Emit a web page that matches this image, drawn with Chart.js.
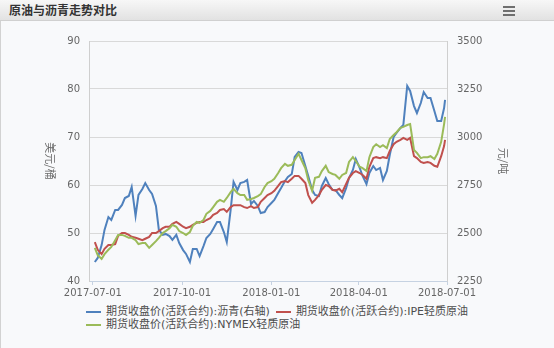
<!DOCTYPE html>
<html>
<head>
<meta charset="utf-8">
<script src="https://cdn.jsdelivr.net/npm/chart.js@4.4.1/dist/chart.umd.min.js"></script>
<style>
  html, body { margin: 0; padding: 0; }
  body {
    width: 554px; height: 348px; position: relative; overflow: hidden;
    background: #f8f9fb;
    font-family: "DejaVu Sans", "Noto Sans CJK SC", sans-serif;
  }
  #edge { position: absolute; left: 0; top: 0; width: 1px; height: 348px; background: #d2d2d2; }
  #head {
    position: absolute; left: 0; top: 0; width: 554px; height: 20px;
    background: linear-gradient(#f7f7f7, #e2e2e2);
    border-bottom: 1px solid #d0d0d0;
  }
  #head .t {
    position: absolute; left: 9px; top: 3px;
    font: bold 12px/14px "Noto Sans CJK SC", sans-serif; color: #333;
  }
  #head .menu { position: absolute; left: 503px; top: 6px; width: 12px; }
  #head .menu i { display: block; height: 2px; background: #6f6f6f; margin-bottom: 2px; }
  #wrap { position: absolute; left: 0; top: 22px; width: 554px; height: 279px; }
  #legend {
    position: absolute; left: 86px; top: 305px; width: 420px;
    display: flex; flex-wrap: wrap;
    font: 11px/13px "DejaVu Sans", "Noto Sans CJK SC", sans-serif; color: #4d4d4d;
  }
  #legend .item { display: inline-flex; align-items: center; margin-right: 6px; white-space: nowrap; }
  #legend .sw { width: 15px; height: 2px; margin-right: 5px; }
</style>
</head>
<body>
<div id="edge"></div>
<div id="head">
  <span class="t">原油与沥青走势对比</span>
  <div class="menu"><i></i><i></i><i></i></div>
</div>
<div id="wrap"><canvas id="chart" width="554" height="279"></canvas></div>
<div id="legend"></div>

<script>
// --------------------------------
// || Data
// --------------------------------

const dates = [
    '2017-07-03', '2017-07-06', '2017-07-10', '2017-07-13', '2017-07-17', '2017-07-20', '2017-07-24', '2017-07-27', '2017-07-31',
    '2017-08-03', '2017-08-07', '2017-08-10', '2017-08-14', '2017-08-17', '2017-08-21', '2017-08-24', '2017-08-28', '2017-08-31',
    '2017-09-04', '2017-09-07', '2017-09-11', '2017-09-14', '2017-09-18', '2017-09-21', '2017-09-25', '2017-09-28',
    '2017-10-02', '2017-10-05', '2017-10-09', '2017-10-12', '2017-10-16', '2017-10-19', '2017-10-23', '2017-10-26', '2017-10-30',
    '2017-11-02', '2017-11-06', '2017-11-09', '2017-11-13', '2017-11-16', '2017-11-20', '2017-11-23', '2017-11-27', '2017-11-30',
    '2017-12-04', '2017-12-07', '2017-12-11', '2017-12-14', '2017-12-18', '2017-12-21', '2017-12-25', '2017-12-28',
    '2018-01-01', '2018-01-04', '2018-01-08', '2018-01-11', '2018-01-15', '2018-01-18', '2018-01-22', '2018-01-25', '2018-01-29',
    '2018-02-01', '2018-02-05', '2018-02-08', '2018-02-12', '2018-02-15', '2018-02-19', '2018-02-22', '2018-02-26',
    '2018-03-01', '2018-03-05', '2018-03-08', '2018-03-12', '2018-03-15', '2018-03-19', '2018-03-22', '2018-03-26', '2018-03-29',
    '2018-04-02', '2018-04-05', '2018-04-09', '2018-04-12', '2018-04-16', '2018-04-19', '2018-04-23', '2018-04-26', '2018-04-30',
    '2018-05-03', '2018-05-07', '2018-05-10', '2018-05-14', '2018-05-17', '2018-05-21', '2018-05-24', '2018-05-28', '2018-05-31',
    '2018-06-04', '2018-06-07', '2018-06-11', '2018-06-14', '2018-06-18', '2018-06-21', '2018-06-25', '2018-06-28', '2018-06-29'
];

// 沥青, 元/吨 (right axis)
const asphalt = [
    2349, 2370, 2437, 2516, 2583, 2568, 2620, 2620, 2646,
    2682, 2693, 2740, 2589, 2698, 2729, 2760, 2724, 2703,
    2641, 2516, 2490, 2495, 2484, 2464, 2490, 2448,
    2411, 2391, 2349, 2417, 2417, 2380, 2432, 2474, 2495,
    2521, 2557, 2557, 2505, 2453, 2620, 2766, 2724, 2760,
    2766, 2776, 2651, 2667, 2641, 2604, 2609, 2635,
    2656, 2672, 2708, 2734, 2771, 2792, 2807, 2896, 2922,
    2917, 2849, 2797, 2724, 2698, 2693, 2745, 2786,
    2755, 2724, 2724, 2698, 2682, 2734, 2786, 2828, 2885,
    2839, 2797, 2755, 2813, 2849, 2828, 2839, 2776, 2823,
    2906, 3000, 3021, 3047, 3063, 3266, 3240, 3161, 3125,
    3177, 3234, 3203, 3203, 3135, 3083, 3083, 3151, 3193
];

// IPE 轻质原油, 美元/桶
const ipe = [
    48.1, 46.5, 45.6, 46.7, 47.5, 47.5, 47.7, 49.4, 50.0,
    50.0, 49.6, 49.2, 49.0, 48.8, 48.5, 48.8, 49.2, 50.0,
    50.0, 50.4, 51.0, 51.3, 51.3, 51.9, 52.3, 51.9,
    51.3, 51.0, 51.3, 51.7, 52.1, 52.3, 52.3, 52.7, 53.1,
    53.8, 54.2, 54.8, 55.0, 54.4, 55.4, 55.8, 55.8, 55.8,
    55.4, 55.2, 55.6, 55.2, 55.4, 56.5, 57.3, 57.9,
    58.3, 58.8, 59.8, 60.6, 60.8, 60.6, 61.3, 61.9, 61.9,
    61.3, 60.4, 57.9, 56.3, 56.9, 57.9, 59.0, 60.0,
    59.8, 59.0, 58.8, 59.2, 58.5, 60.2, 61.5, 62.5, 62.9,
    62.5, 62.1, 61.3, 63.8, 65.6, 65.8, 65.6, 65.8, 65.6,
    67.1, 68.5, 69.0, 69.4, 69.8, 69.4, 69.8, 66.0, 65.6,
    64.8, 64.6, 64.8, 64.6, 64.0, 63.8, 66.0, 68.1, 69.4
];

// NYMEX 轻质原油, 美元/桶
const nymex = [
    46.9, 45.4, 44.6, 45.6, 46.5, 47.1, 48.5, 49.6, 49.6,
    49.4, 49.0, 49.0, 48.5, 47.7, 47.9, 47.9, 46.9, 47.5,
    48.3, 49.0, 50.0, 50.4, 51.0, 51.7, 51.3, 50.4,
    50.0, 49.6, 50.2, 51.5, 52.3, 52.1, 52.7, 54.0, 54.6,
    55.4, 56.5, 56.9, 56.5, 57.3, 58.5, 59.2, 58.3, 57.9,
    57.9, 56.9, 57.1, 57.3, 57.7, 58.1, 59.6, 60.4,
    60.8, 61.3, 62.5, 63.5, 64.4, 64.0, 64.2, 65.2, 66.5,
    65.2, 63.5, 61.0, 58.8, 61.5, 61.7, 62.9, 64.0,
    62.7, 62.3, 62.1, 61.3, 62.1, 62.5, 64.8, 65.8, 65.0,
    63.8, 63.5, 62.9, 65.8, 67.9, 68.5, 67.9, 68.3, 67.7,
    69.6, 70.4, 71.0, 71.9, 72.1, 72.5, 72.7, 67.3, 66.7,
    65.6, 65.8, 65.8, 66.0, 65.4, 66.5, 69.0, 72.7, 74.2
];

const seriesNames = [
    '期货收盘价(活跃合约):沥青(右轴)',
    '期货收盘价(活跃合约):IPE轻质原油',
    '期货收盘价(活跃合约):NYMEX轻质原油'
];
const seriesColors = ['#4f81bd', '#c0504d', '#9bbb59'];

const xTickDates = ['2017-07-01', '2017-10-01', '2018-01-01', '2018-04-01', '2018-07-01'];
const leftTicks = [40, 50, 60, 70, 80, 90];
const rightTicks = [2250, 2500, 2750, 3000, 3250, 3500];
const yTitles = ['美元/桶', '元/吨'];

// --------------------------------
// || Helpers
// --------------------------------

const base = Date.parse(xTickDates[0]);
const toDay = s => (Date.parse(s) - base) / 864e5;
const points = arr => dates.map((d, i) => ({ x: toDay(d), y: arr[i] }));

const tickFont = { family: '"DejaVu Sans", sans-serif', size: 10 };

// y titles read top to bottom on both sides
const axisTitles = {
    id: 'axisTitles',
    afterDraw(chart) {
        const { ctx, chartArea: a } = chart;
        const mid = (a.top + a.bottom) / 2;
        ctx.save();
        ctx.fillStyle = '#6b6b6b';
        ctx.font = '11px "Noto Sans CJK SC", sans-serif';
        ctx.textAlign = 'center';
        ctx.textBaseline = 'middle';
        [[a.left - 39, yTitles[0]], [a.right + 56, yTitles[1]]].forEach(([x, t]) => {
            ctx.save();
            ctx.translate(x, mid);
            ctx.rotate(Math.PI / 2);
            ctx.fillText(t, 0, 0);
            ctx.restore();
        });
        ctx.restore();
    }
};

// --------------------------------
// || Chart
// --------------------------------

const chart = new Chart(document.getElementById('chart'), {
    type: 'line',
    data: {
        datasets: [
            { label: seriesNames[0], data: points(asphalt), yAxisID: 'y1', borderColor: seriesColors[0], order: 2 },
            { label: seriesNames[1], data: points(ipe), yAxisID: 'y', borderColor: seriesColors[1], order: 1 },
            { label: seriesNames[2], data: points(nymex), yAxisID: 'y', borderColor: seriesColors[2], order: 0 }
        ]
    },
    options: {
        responsive: false,
        animation: false,
        devicePixelRatio: 1,
        elements: {
            line: { borderWidth: 2, tension: 0 },
            point: { radius: 0 }
        },
        layout: { padding: { top: 19, left: 0, right: 0, bottom: 0 } },
        plugins: {
            legend: { display: false },
            tooltip: { enabled: false }
        },
        scales: {
            x: {
                type: 'linear',
                min: toDay(xTickDates[0]) - 4,
                max: toDay(xTickDates[xTickDates.length - 1]),
                afterBuildTicks: s => { s.ticks = xTickDates.map(d => ({ value: toDay(d) })); },
                afterFit: s => { s.height = 20; },
                grid: { drawOnChartArea: false, tickLength: 4, color: '#c6d2e2' },
                border: { color: '#c6d2e2' },
                ticks: {
                    autoSkip: false, maxRotation: 0, padding: 2,
                    color: '#666', font: tickFont,
                    callback: (v, i) => xTickDates[i]
                }
            },
            y: {
                position: 'left',
                min: leftTicks[0],
                max: leftTicks[leftTicks.length - 1],
                afterBuildTicks: s => { s.ticks = leftTicks.map(v => ({ value: v })); },
                afterFit: s => { s.width = 89; },
                grid: { color: '#d9d9d9', drawTicks: false },
                border: { color: '#cfcfcf' },
                ticks: { padding: 9, color: '#666', font: tickFont, callback: v => String(v) }
            },
            y1: {
                position: 'right',
                min: rightTicks[0],
                max: rightTicks[rightTicks.length - 1],
                afterBuildTicks: s => { s.ticks = rightTicks.map(v => ({ value: v })); },
                afterFit: s => { s.width = 107; },
                grid: { drawOnChartArea: false, drawTicks: false },
                border: { color: '#cfcfcf' },
                ticks: { padding: 10, color: '#666', font: tickFont, callback: v => String(v) }
            }
        }
    },
    plugins: [axisTitles]
});

// --------------------------------
// || Legend
// --------------------------------

const legendEl = document.getElementById('legend');
chart.data.datasets.forEach(ds => {
    const item = document.createElement('span');
    item.className = 'item';
    const sw = document.createElement('span');
    sw.className = 'sw';
    sw.style.background = ds.borderColor;
    item.append(sw, document.createTextNode(ds.label));
    legendEl.append(item);
});
</script>
</body>
</html>
